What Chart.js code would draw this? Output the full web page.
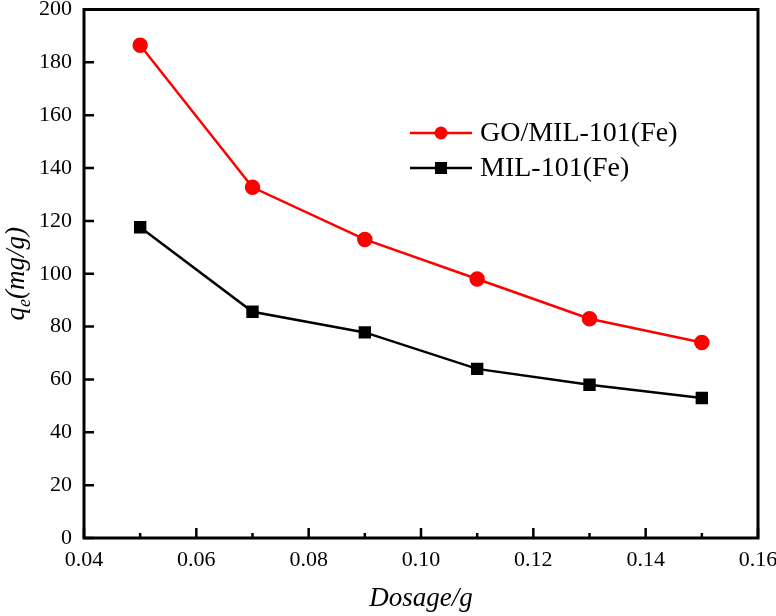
<!doctype html>
<html lang="en">
  <head>
    <meta charset="utf-8">
    <title>Dosage vs qe</title>
    <style>
      * {
        margin: 0;
        padding: 0;
      }
      body {
        background: #fff;
      }
    </style>
  </head>
  <body>
    <canvas id="myChart" width="776" height="616"></canvas>
    <script src="https://cdn.jsdelivr.net/npm/chart.js/dist/chart.umd.min.js"></script>
    <script>
    // data
    const dosage = [0.05, 0.07, 0.09, 0.11, 0.13, 0.15];
    const goMil = [186.5, 132.7, 113.0, 98.0, 83.0, 74.0];
    const mil = [117.6, 85.6, 77.8, 64.0, 58.0, 53.0];
    const seriesNames = ['GO/MIL-101(Fe)', 'MIL-101(Fe)'];
    const xTickStep = 0.02;
    const yTickStep = 20;

    const serif = '"Liberation Serif", "Times New Roman", serif';

    // drop the label overhang padding so the plot box sits where we want it
    function noOverhang(s) {
      s.paddingTop = 0;
      s.paddingBottom = 0;
      s.paddingLeft = 0;
      s.paddingRight = 0;
    }

    // frame, inward ticks, legend and y title
    const decorations = {
      id: 'decorations',
      afterDraw(chart) {
        const ctx = chart.ctx;
        const {left, right, top, bottom} = chart.chartArea;
        const xs = chart.scales.x;
        const ys = chart.scales.y;
        ctx.save();
        ctx.strokeStyle = '#000';
        ctx.lineWidth = 2.5;

        // x ticks (major + minor in between)
        ctx.beginPath();
        xs.ticks.forEach((t, i) => {
          const px = xs.getPixelForValue(t.value);
          ctx.moveTo(px, bottom);
          ctx.lineTo(px, bottom - 10);
          if (i < xs.ticks.length - 1) {
            const mid = xs.getPixelForValue((t.value + xs.ticks[i + 1].value) / 2);
            ctx.moveTo(mid, bottom);
            ctx.lineTo(mid, bottom - 5);
          }
        });
        ys.ticks.forEach(t => {
          const py = ys.getPixelForValue(t.value);
          ctx.moveTo(left, py);
          ctx.lineTo(left + 10, py);
        });
        ctx.stroke();

        ctx.lineWidth = 3;
        ctx.strokeRect(left, top, right - left, bottom - top);

        // legend
        ctx.font = '28px ' + serif;
        ctx.textBaseline = 'middle';
        ctx.textAlign = 'left';
        chart.data.datasets.forEach((ds, i) => {
          const y = 133 + i * 35;
          ctx.strokeStyle = ds.borderColor;
          ctx.lineWidth = 2.5;
          ctx.beginPath();
          ctx.moveTo(410, y);
          ctx.lineTo(472, y);
          ctx.stroke();
          ctx.fillStyle = ds.pointBackgroundColor;
          if (ds.pointStyle === 'circle') {
            ctx.beginPath();
            ctx.arc(441, y, 6.5, 0, Math.PI * 2);
            ctx.fill();
          } else {
            ctx.fillRect(435, y - 6, 12, 12);
          }
          ctx.fillStyle = '#000';
          ctx.fillText(ds.label, 480, y + 1);
        });

        // y title with subscript
        ctx.translate(24, (top + bottom) / 2);
        ctx.rotate(-Math.PI / 2);
        ctx.fillStyle = '#000';
        ctx.textBaseline = 'alphabetic';
        const big = 'italic 27px ' + serif;
        const small = 'italic 18px ' + serif;
        ctx.font = big;
        const wq = ctx.measureText('q').width;
        const wr = ctx.measureText('(mg/g)').width;
        ctx.font = small;
        const we = ctx.measureText('e').width;
        let x = -(wq + we + wr) / 2;
        ctx.font = big;
        ctx.fillText('q', x, 0);
        x += wq;
        ctx.font = small;
        ctx.fillText('e', x, 6);
        x += we;
        ctx.font = big;
        ctx.fillText('(mg/g)', x, 0);
        ctx.restore();
      }
    };

    const data = {
      datasets: [
        {
          label: seriesNames[0],
          data: dosage.map((d, i) => ({x: d, y: goMil[i]})),
          borderColor: '#ff0000',
          pointBackgroundColor: '#ff0000',
          pointBorderColor: '#ff0000',
          pointStyle: 'circle',
          pointRadius: 6.5,
          borderWidth: 2.5
        },
        {
          label: seriesNames[1],
          data: dosage.map((d, i) => ({x: d, y: mil[i]})),
          borderColor: '#000000',
          pointBackgroundColor: '#000000',
          pointBorderColor: '#000000',
          pointStyle: 'rect',
          pointRadius: 7,
          borderWidth: 2.5
        }
      ]
    };

    const config = {
      type: 'line',
      data,
      options: {
        responsive: false,
        animation: false,
        layout: {
          padding: {top: 9, right: 18, left: 0, bottom: 0}
        },
        plugins: {
          legend: {display: false},
          tooltip: {enabled: false}
        },
        scales: {
          x: {
            type: 'linear',
            min: 0.04,
            max: 0.16,
            afterFit: (s) => { s.height = 78; noOverhang(s); },
            grid: {display: false, drawTicks: false},
            border: {display: false},
            ticks: {
              stepSize: xTickStep,
              padding: 9,
              color: '#000',
              font: {family: serif, size: 22},
              callback: (v) => v.toFixed(2)
            },
            title: {
              display: true,
              text: 'Dosage/g',
              color: '#000',
              font: {family: serif, size: 27, style: 'italic'},
              padding: {top: 0, bottom: 1}
            }
          },
          y: {
            min: 0,
            max: 200,
            afterFit: (s) => { s.width = 84; noOverhang(s); },
            grid: {display: false, drawTicks: false},
            border: {display: false},
            ticks: {
              stepSize: yTickStep,
              padding: 12,
              color: '#000',
              font: {family: serif, size: 22}
            }
          }
        }
      },
      plugins: [decorations]
    };

    const myChart = new Chart(document.getElementById('myChart'), config);
    </script>
  </body>
</html>
